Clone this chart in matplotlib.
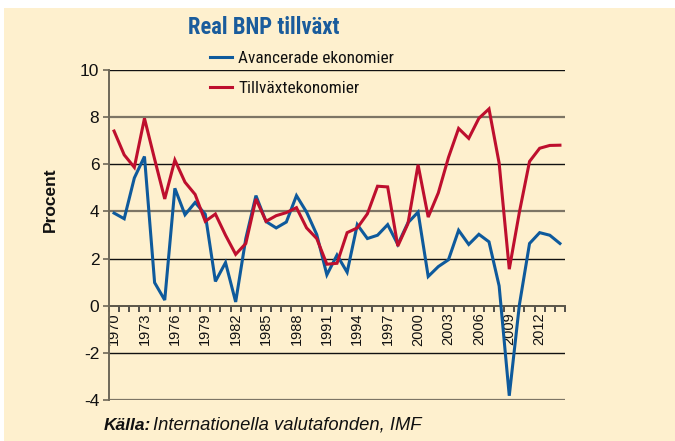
import matplotlib
matplotlib.use("Agg")
import matplotlib.pyplot as plt
import matplotlib.patches as mpatches
from matplotlib.ticker import FixedLocator, NullFormatter
from matplotlib import font_manager as fm

years = list(range(1970, 2015))
advanced = [3.93, 3.69, 5.42, 6.33, 0.98, 0.24, 4.98, 3.86, 4.38, 3.88,
            1.03, 1.83, 0.16, 2.85, 4.67, 3.57, 3.30, 3.55, 4.67, 3.97,
            3.02, 1.31, 2.15, 1.42, 3.44, 2.85, 2.99, 3.44, 2.60, 3.52,
            3.97, 1.24, 1.66, 1.95, 3.20, 2.60, 3.03, 2.71, 0.84, -3.82,
            0.04, 2.64, 3.10, 2.99, 2.64]
emerging = [7.41, 6.40, 5.87, 7.95, 6.22, 4.53, 6.18, 5.24, 4.72, 3.58,
            3.89, 2.99, 2.18, 2.64, 4.53, 3.58, 3.82, 3.95, 4.16, 3.30,
            2.85, 1.76, 1.80, 3.10, 3.30, 3.90, 5.07, 5.04, 2.53, 3.48,
            5.98, 3.76, 4.79, 6.29, 7.52, 7.10, 7.95, 8.35, 6.05, 1.55,
            3.97, 6.12, 6.68, 6.80, 6.81]
label_years = list(range(1970, 2013, 3))
yticks = [-4, -2, 0, 2, 4, 6, 8, 10]

title = "Real BNP tillväxt"
series_names = ["Avancerade ekonomier", "Tillväxtekonomier"]
ylabel = "Procent"

BG = "#FEF0CE"
BLUE = "#0E5A9C"
RED = "#BE0F2E"
TITLE_BLUE = "#1A5C9C"

installed = {f.name for f in fm.fontManager.ttflist}
narrow_candidates = ["Liberation Sans Narrow", "Roboto Condensed", "Open Sans Condensed",
                     "Noto Sans Condensed", "DejaVu Sans Condensed"]
narrow = [n for n in narrow_candidates if n in installed]
HAVE_NARROW = len(narrow) > 0
NARROW = (narrow[:1] if HAVE_NARROW else []) + ["Liberation Sans", "DejaVu Sans"]
REG = ["Liberation Sans", "DejaVu Sans"]

W, H = 675, 441
fig = plt.figure(figsize=(W / 100, H / 100), dpi=100, facecolor="white")
fig.patches.append(mpatches.Rectangle((4 / W, 0), 1 - 4 / W, 1 - 8 / H,
                                      transform=fig.transFigure,
                                      facecolor=BG, edgecolor="none", zorder=-10))

ax = fig.add_axes([109 / W, 1 - 400 / H, (565 - 109) / W, (400 - 70) / H])
ax.set_facecolor("none")
ax.set_xlim(1969.5, 2014.5)
ax.set_ylim(-4, 10)

for v in [10, 8, 6, 4, 2, -2, -4]:
    if v in (8, 4, -4):
        ax.axhline(v, color="#7d7565", lw=1.6, zorder=1)
    else:
        ax.axhline(v, color="#111111", lw=1.0, zorder=1)

l1, = ax.plot(years, advanced, color=BLUE, lw=2.2, zorder=3, solid_joinstyle="miter")
l2, = ax.plot(years, emerging, color=RED, lw=2.2, zorder=3, solid_joinstyle="miter")

for s in ["top", "right"]:
    ax.spines[s].set_visible(False)
ax.spines["left"].set_color("#6e6858")
ax.spines["left"].set_linewidth(1.4)
ax.spines["bottom"].set_position(("data", 0))
ax.spines["bottom"].set_color("#5a5548")
ax.spines["bottom"].set_linewidth(1.4)
ax.spines["bottom"].set_zorder(2)

ax.set_yticks(yticks)
ax.set_yticklabels([str(v) for v in yticks], fontsize=12.5, family=REG, color="#111111")
ax.tick_params(axis="y", direction="out", length=4, width=1.2, color="#6e6858", pad=3)

ax.set_xticks(label_years)
ax.set_xticklabels([str(y) for y in label_years], rotation=90, fontsize=10.5,
                   family=REG, color="#111111", va="top", ha="center")
ax.tick_params(axis="x", which="major", length=0, pad=5)
ax.xaxis.set_minor_locator(FixedLocator([y + 0.5 for y in range(1969, 2015)]))
ax.xaxis.set_minor_formatter(NullFormatter())
ax.tick_params(axis="x", which="minor", direction="out", length=4, width=1.2, color="#333333")

title_size = 16.3 if HAVE_NARROW else 14.5
fig.text(264 / W, 1 - 28 / H, title, ha="center", va="center", fontsize=title_size,
         fontweight="bold", color=TITLE_BLUE, family=NARROW)

fig.text(50 / W, 1 - 200 / H, ylabel, rotation=90, ha="center", va="center",
         fontsize=12.5, fontweight="bold", family=REG, color="#111111")

leg_size = 12.4 if HAVE_NARROW else 11.5
leg = fig.legend([l1, l2], series_names, loc="upper left",
                 bbox_to_anchor=(210 / W, 1 - 51 / H), frameon=False,
                 prop={"family": NARROW, "size": leg_size},
                 handlelength=1.28, handletextpad=0.35, labelspacing=0.86,
                 borderaxespad=0, borderpad=0)
for t in leg.get_texts():
    t.set_color("#111111")

fig.text(104 / W, 1 - 425 / H, "Källa:", ha="left", va="center", fontsize=12.5,
         fontweight="bold", fontstyle="italic", family=REG, color="#111111")
fig.text(153 / W, 1 - 425 / H, "Internationella valutafonden, IMF", ha="left",
         va="center", fontsize=13.2, fontstyle="italic", family=REG, color="#111111")

fig.savefig("out.png", dpi=100, facecolor="white")
